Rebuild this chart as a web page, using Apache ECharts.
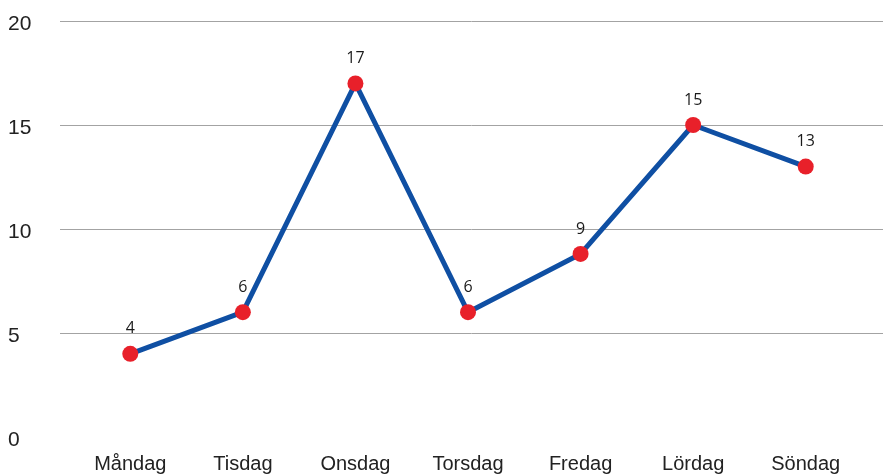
<!DOCTYPE html>
<html><head><meta charset="utf-8">
<script src="https://cdn.jsdelivr.net/npm/echarts@6/dist/echarts.min.js"></script>
<style>html,body{margin:0;padding:0;background:#fff}#c{width:883px;height:475px}</style>
</head><body><div id="c"></div>
<script>
const days = ['Måndag','Tisdag','Onsdag','Torsdag','Fredag','Lördag','Söndag'];
const values = [4, 6, 17, 6, 8.8, 15, 13];
const yTicks = [0, 5, 10, 15, 20];

const chart = echarts.init(document.getElementById('c'));
chart.setOption({
  animation: false,
  grid: [
    {left: 60, right: 0, top: 21, bottom: 38},
    {left: 74, right: 21, top: 21, bottom: 38}
  ],
  xAxis: [
    {gridIndex: 0, type: 'category', data: days, show: false},
    {gridIndex: 1, type: 'category', data: days, boundaryGap: true,
     axisLine: {show: false}, axisTick: {show: false},
     axisLabel: {color: '#222', fontSize: 20, fontFamily: 'Liberation Sans, Arial, sans-serif', margin: 17}}
  ],
  yAxis: [
    {gridIndex: 0, type: 'value', min: yTicks[0], max: yTicks[yTicks.length-1], interval: 5,
     axisLine: {show: false}, axisTick: {show: false},
     axisLabel: {align: 'left', margin: 52,
       formatter: v => '{a|' + v + '}',
       rich: {a: {color: '#222', fontSize: 21, fontFamily: 'Liberation Sans, Arial, sans-serif', padding: [7, 0, 0, 0]}}},
     splitLine: {show: true, lineStyle: {color: ['rgba(0,0,0,0)', '#a3a3a3', '#a3a3a3', '#a3a3a3', '#a3a3a3'], width: 1}}
    },
    {gridIndex: 1, type: 'value', min: yTicks[0], max: yTicks[yTicks.length-1], interval: 5, show: false,
     splitLine: {show: false}}
  ],
  series: [{
    type: 'line', xAxisIndex: 1, yAxisIndex: 1, data: values,
    lineStyle: {color: '#0f4fa3', width: 5},
    symbol: 'circle', symbolSize: 16,
    itemStyle: {color: '#e8202a', borderWidth: 0},
    label: {show: true, position: 'top', distance: 9, color: '#1a1a1a', fontSize: 16,
      fontFamily: 'Open Sans, sans-serif',
      formatter: p => String(Math.round(p.value))}
  }]
});
</script></body></html>
